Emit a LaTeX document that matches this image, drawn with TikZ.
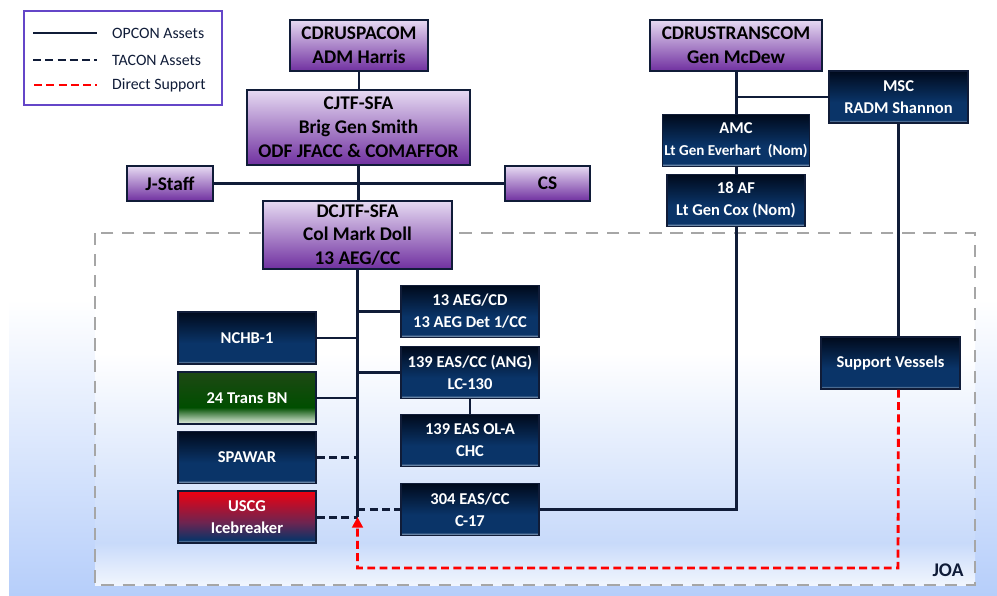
\documentclass[tikz,border=0pt]{standalone}
\usepackage{fontspec}
\setmainfont{Carlito}
\usetikzlibrary{arrows.meta}
\definecolor{linenavy}{RGB}{16,28,56}
\definecolor{navyD}{RGB}{0,10,28}
\definecolor{navyM}{RGB}{10,52,104}
\definecolor{navyL}{RGB}{190,205,222}
\definecolor{purpleL}{RGB}{230,218,242}
\definecolor{purpleD}{RGB}{112,48,160}
\definecolor{greenD}{RGB}{30,72,20}
\definecolor{greenM}{RGB}{0,78,0}
\definecolor{greenL}{RGB}{232,242,230}
\definecolor{redT}{RGB}{240,0,16}
\definecolor{redM}{RGB}{110,36,80}
\definecolor{bgblue}{RGB}{182,206,250}
\definecolor{joablue}{RGB}{200,218,250}
\definecolor{joagray}{RGB}{166,166,166}
\definecolor{legendborder}{RGB}{100,70,200}

\pgfdeclareverticalshading{navyshade}{100bp}{color(0bp)=(navyL); color(25bp)=(navyL); color(28bp)=(navyM); color(45bp)=(navyM); color(75bp)=(navyD); color(100bp)=(navyD)}
\pgfdeclareverticalshading{purpleshade}{100bp}{color(0bp)=(purpleD); color(25bp)=(purpleD); color(75bp)=(purpleL); color(100bp)=(purpleL)}
\pgfdeclareverticalshading{greenshade}{100bp}{color(0bp)=(greenL); color(25bp)=(greenL); color(41bp)=(greenM); color(75bp)=(greenD); color(100bp)=(greenD)}
\pgfdeclareverticalshading{redshade}{100bp}{color(0bp)=(navyL); color(25bp)=(navyL); color(28bp)=(navyM); color(45bp)=(redM); color(75bp)=(redT); color(100bp)=(redT)}
\pgfdeclareverticalshading{joashade}{100bp}{color(0bp)=(white); color(25bp)=(white!75!joablue); color(31bp)=(joablue); color(58bp)=(white); color(100bp)=(white)}

\begin{document}
\begin{tikzpicture}[x=0.02cm, y=-0.02cm,
    box/.style={draw=linenavy, line width=0.9pt, align=center, inner sep=1pt},
    purplebox/.style={box, shade, shading=purpleshade, text=black, font=\fontsize{11}{13.6}\selectfont\bfseries},
    navybox/.style={box, shade, shading=navyshade, text=white, font=\fontsize{9.4}{12.5}\selectfont\bfseries, minimum width=2.76cm, minimum height=1.04cm},
    greenbox/.style={navybox, shading=greenshade},
    redbox/.style={navybox, shading=redshade},
    opcon/.style={linenavy, line width=1.7pt},
    tacon/.style={opcon, dash pattern=on 4.5pt off 2.5pt},
    support/.style={red, line width=1.6pt, dash pattern=on 4.5pt off 2.5pt},
    legendtext/.style={anchor=west, text=linenavy, font=\fontsize{9}{11}\selectfont}]
    \useasboundingbox (0,0) rectangle (997,595);

    % Achtergrond
    \fill[white] (0,0) rectangle (997,595);
    \shade[top color=white, bottom color=bgblue] (9,300) rectangle (997,595);
    \shade[shading=joashade] (95,233) rectangle (975,585);
    \draw[joagray, line width=1.5pt, dash pattern=on 7pt off 5pt] (95,233) rectangle (975,585);
    \node[text=linenavy, font=\fontsize{11}{13}\selectfont\bfseries] (joa) at (948,570) {JOA};

    % Legenda
    \draw[legendborder, line width=1.1pt] (24,11) rectangle (222,105);
    \draw[opcon] (33,33) -- (97,33);
    \node[legendtext] (lopcon) at (106,33) {OPCON Assets};
    \draw[tacon] (33,60) -- (97,60);
    \node[legendtext] (ltacon) at (106,60) {TACON Assets};
    \draw[support] (34,85) -- (97,85);
    \node[legendtext] (lsupport) at (106,85) {Direct Support};

    % Bevelstructuur
    \node[purplebox, minimum width=2.76cm, minimum height=1.02cm] (pacom) at (359,45.5) {CDRUSPACOM\\ADM Harris};
    \node[purplebox, minimum width=4.46cm, minimum height=1.5cm] (cjtf) at (358.5,127.5) {CJTF-SFA\\Brig Gen Smith\\ODF JFACC \& COMAFFOR};
    \node[purplebox, minimum width=1.72cm, minimum height=0.7cm] (jstaff) at (170,183.5) {J-Staff};
    \node[purplebox, minimum width=1.7cm, minimum height=0.7cm] (cs) at (547.5,183.5) {CS};
    \node[purplebox, minimum width=3.78cm, minimum height=1.36cm] (dcjtf) at (357.5,235) {DCJTF-SFA\\Col Mark Doll\\13 AEG/CC};

    % Eenheden in JOA
    \node[navybox] (aegcd) at (470,311.5) {13 AEG/CD\\13 AEG Det 1/CC};
    \node[navybox] (eascc) at (470,372.5) {139 EAS/CC (ANG)\\LC-130};
    \node[navybox] (easola) at (470,440.5) {139 EAS OL-A\\CHC};
    \node[navybox] (eas304) at (470,509.5) {304 EAS/CC\\C-17};
    \node[navybox] (nchb) at (247,338) {NCHB-1};
    \node[greenbox] (transbn) at (247,398) {24 Trans BN};
    \node[navybox] (spawar) at (247,457.5) {SPAWAR};
    \node[redbox] (uscg) at (247,517) {USCG\\Icebreaker};

    % TRANSCOM
    \node[purplebox, minimum width=3.44cm, minimum height=1.02cm] (transcom) at (736,45.5) {CDRUSTRANSCOM\\Gen McDew};
    \node[navybox, minimum width=2.78cm] (msc) at (898.5,97) {MSC\\RADM Shannon};
    \node[navybox] (amc) at (736,140.5) {AMC\\{\fontsize{8.6}{12}\selectfont Lt Gen Everhart\ \ (Nom)}};
    \node[navybox] (af18) at (736,200.5) {18 AF\\Lt Gen Cox (Nom)};
    \node[navybox, minimum width=2.78cm] (sv) at (890.5,363) {Support Vessels};

    % Verbindingen
    \coordinate (spine) at (dcjtf.south |- uscg.east);
    \coordinate (supportcorner) at (898,568);
    \draw[opcon] (pacom.south) -- (pacom.south |- cjtf.north);
    \draw[opcon] (cjtf.south) -- (cjtf.south |- dcjtf.north);
    \draw[opcon] (jstaff.east) -- (cs.west);
    \draw[opcon] (dcjtf.south) -- (spine);
    \foreach \n in {aegcd, eascc}
        \draw[opcon] (spine |- \n.west) -- (\n.west);
    \foreach \n in {nchb, transbn}
        \draw[opcon] (\n.east) -- (\n.east -| spine);
    \draw[tacon] (spawar.east) -- (spawar.east -| spine);
    \draw[tacon] (uscg.east) -- (spine);
    \draw[tacon] (spine |- eas304.west) -- (eas304.west);
    \draw[opcon] (eascc.south) -- (easola.north);
    \draw[opcon] (eas304.east) -| (af18.south);
    \draw[opcon] (transcom.south) -- (amc.north);
    \draw[opcon] (amc.south) -- (af18.north);
    \draw[opcon] (transcom.south |- msc.west) -- (msc.west);
    \draw[opcon] (msc.south) -- (msc.south |- sv.north);
    \draw[support, -{Triangle[length=6pt, width=6pt]}] (msc.south |- sv.south) -- (supportcorner) -| (spine);
\end{tikzpicture}
\end{document}
